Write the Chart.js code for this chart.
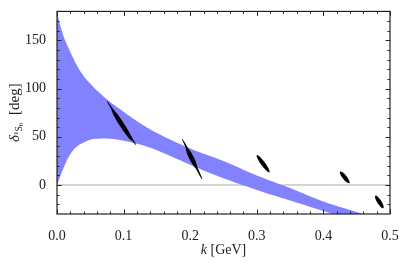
<!DOCTYPE html>
<html>
<head>
<meta charset="utf-8">
<script src="https://cdn.jsdelivr.net/npm/chart.js@4.4.0/dist/chart.umd.min.js"></script>
<style>
  body { margin: 0; background: #fff; }
  #wrap { width: 407px; height: 264px; }
</style>
</head>
<body>
<div id="wrap"><canvas id="myChart" width="407" height="264"></canvas></div>
<script>
// band (k in GeV, phase shift in deg)
var kValues = [0, 0.01, 0.02, 0.03, 0.04, 0.05, 0.06, 0.08, 0.1, 0.125, 0.15, 0.2, 0.25, 0.3, 0.35, 0.4, 0.45, 0.5];
var bandUpper = [178, 154, 138, 124, 113, 105, 98, 86, 76, 64, 54, 38, 25, 10, -3, -17, -28, -40];
var bandLower = [0, 18, 32, 40, 44, 47, 48, 48, 46, 42, 36, 21, 7, -5, -16, -27, -38, -49];

// error ellipses: ends of the long axis
var ellStartK = [0.075, 0.188, 0.300, 0.425, 0.478];
var ellStartY = [87, 48, 31, 14, -11];
var ellEndK = [0.119, 0.218, 0.319, 0.439, 0.490];
var ellEndY = [41, 6, 13, 2, -24];
// inner cores of the first two ellipses
var coreStartK = [0.082, 0.194];
var coreStartY = [79, 39];
var coreEndK = [0.113, 0.210];
var coreEndY = [46, 17];

var xTickLabels = [0, 0.1, 0.2, 0.3, 0.4, 0.5];
var yTickLabels = [0, 50, 100, 150];

var font = "Liberation Serif";

function pts(ys) {
    return kValues.map(function (k, i) { return { x: k, y: ys[i] }; });
}

var framePlugin = {
    id: "frame",
    beforeDatasetsDraw: function (chart) {
        // zero line under the band
        var ctx = chart.ctx, a = chart.chartArea;
        var y0 = chart.scales.y.getPixelForValue(0);
        ctx.save();
        ctx.strokeStyle = "#c4c4c4";
        ctx.lineWidth = 1.5;
        ctx.beginPath();
        ctx.moveTo(a.left, y0);
        ctx.lineTo(a.right, y0);
        ctx.stroke();
        ctx.restore();
    },
    afterDatasetsDraw: function (chart) {
        var ctx = chart.ctx, a = chart.chartArea;
        var xs = chart.scales.x, ys = chart.scales.y;

        function ellipse(k1, y1, k2, y2, halfW) {
            var px1 = xs.getPixelForValue(k1), py1 = ys.getPixelForValue(y1);
            var px2 = xs.getPixelForValue(k2), py2 = ys.getPixelForValue(y2);
            var cx = (px1 + px2) / 2, cy = (py1 + py2) / 2;
            var len = Math.hypot(px2 - px1, py2 - py1) / 2;
            var ang = Math.atan2(py2 - py1, px2 - px1);
            ctx.beginPath();
            ctx.ellipse(cx, cy, len, halfW, ang, 0, Math.PI * 2);
            ctx.fill();
        }

        ctx.save();
        ctx.beginPath();
        ctx.rect(a.left, a.top, a.right - a.left, a.bottom - a.top);
        ctx.clip();
        ctx.fillStyle = "#000";
        for (var i = 0; i < ellStartK.length; i++) {
            ellipse(ellStartK[i], ellStartY[i], ellEndK[i], ellEndY[i], i < 2 ? 1.1 : 2.1);
        }
        for (var j = 0; j < coreStartK.length; j++) {
            ellipse(coreStartK[j], coreStartY[j], coreEndK[j], coreEndY[j], 2.4);
        }
        ctx.restore();

        // frame and inward ticks
        ctx.save();
        ctx.strokeStyle = "#222";
        ctx.lineWidth = 1.2;
        ctx.strokeRect(a.left, a.top, a.right - a.left, a.bottom - a.top);
        ctx.lineWidth = 1;
        ctx.beginPath();
        for (var v = 0; v <= 50; v += 2) {
            var px = Math.round(xs.getPixelForValue(v / 100)) + 0.5;
            var len = v % 10 === 0 ? 4.5 : 2.5;
            ctx.moveTo(px, a.bottom); ctx.lineTo(px, a.bottom - len);
            ctx.moveTo(px, a.top); ctx.lineTo(px, a.top + len);
        }
        for (var w = -20; w <= 170; w += 10) {
            var py = Math.round(ys.getPixelForValue(w)) + 0.5;
            var l2 = w % 50 === 0 ? 4.5 : 2.5;
            ctx.moveTo(a.left, py); ctx.lineTo(a.left + l2, py);
            ctx.moveTo(a.right, py); ctx.lineTo(a.right - l2, py);
        }
        ctx.stroke();
        ctx.restore();

        // axis titles
        ctx.save();
        ctx.fillStyle = "#222";
        ctx.textBaseline = "middle";
        ctx.font = "italic 14px '" + font + "'";
        var kW = ctx.measureText("k").width;
        ctx.font = "14px '" + font + "'";
        var restW = ctx.measureText(" [GeV]").width;
        var x0 = (a.left + a.right) / 2 - (kW + restW) / 2;
        ctx.font = "italic 14px '" + font + "'";
        ctx.fillText("k", x0, 250);
        ctx.font = "14px '" + font + "'";
        ctx.fillText(" [GeV]", x0 + kW, 250);

        // y title: delta with 1S0 subscript
        ctx.translate(15, (a.top + a.bottom) / 2);
        ctx.rotate(-Math.PI / 2);
        var runs = [
            { t: "\u03b4", f: "italic 15px", dy: 0 },
            { t: "1", f: "7px", dy: 1 },
            { t: "S", f: "10px", dy: 4 },
            { t: "0", f: "7px", dy: 6 },
            { t: "  [deg]", f: "15px", dy: 0 }
        ];
        var total = 0;
        runs.forEach(function (r) {
            ctx.font = r.f + " '" + font + "'";
            r.w = ctx.measureText(r.t).width;
            total += r.w;
        });
        var cx = -total / 2;
        runs.forEach(function (r) {
            ctx.font = r.f + " '" + font + "'";
            ctx.fillText(r.t, cx, r.dy);
            cx += r.w;
        });
        ctx.restore();
    }
};

new Chart("myChart", {
    type: "line",
    data: {
        datasets: [{
            data: pts(bandUpper),
            fill: "+1",
            backgroundColor: "#8282ff",
            borderWidth: 0,
            borderColor: "rgba(0,0,0,0)",
            pointRadius: 0,
            tension: 0.4
        }, {
            data: pts(bandLower),
            fill: false,
            borderWidth: 0,
            borderColor: "rgba(0,0,0,0)",
            pointRadius: 0,
            tension: 0.4
        }]
    },
    options: {
        responsive: false,
        animation: false,
        layout: { padding: { top: 7, right: 17, left: 0, bottom: 0 } },
        plugins: {
            legend: { display: false },
            tooltip: { enabled: false }
        },
        scales: {
            x: {
                type: "linear",
                min: 0,
                max: 0.5,
                grid: { display: false },
                border: { display: false },
                afterBuildTicks: function (s) { s.ticks = xTickLabels.map(function (v) { return { value: v }; }); },
                afterFit: function (s) { s.height = 50; },
                ticks: {
                    padding: 6,
                    maxRotation: 0,
                    color: "#222",
                    font: { family: font, size: 14 },
                    callback: function (v) { return v.toFixed(1); }
                }
            },
            y: {
                min: -30,
                max: 180,
                grid: { display: false },
                border: { display: false },
                afterBuildTicks: function (s) { s.ticks = yTickLabels.map(function (v) { return { value: v }; }); },
                afterFit: function (s) { s.width = 57; },
                ticks: {
                    padding: 3,
                    color: "#222",
                    font: { family: font, size: 14 }
                }
            }
        }
    },
    plugins: [framePlugin]
});
</script>
</body>
</html>
